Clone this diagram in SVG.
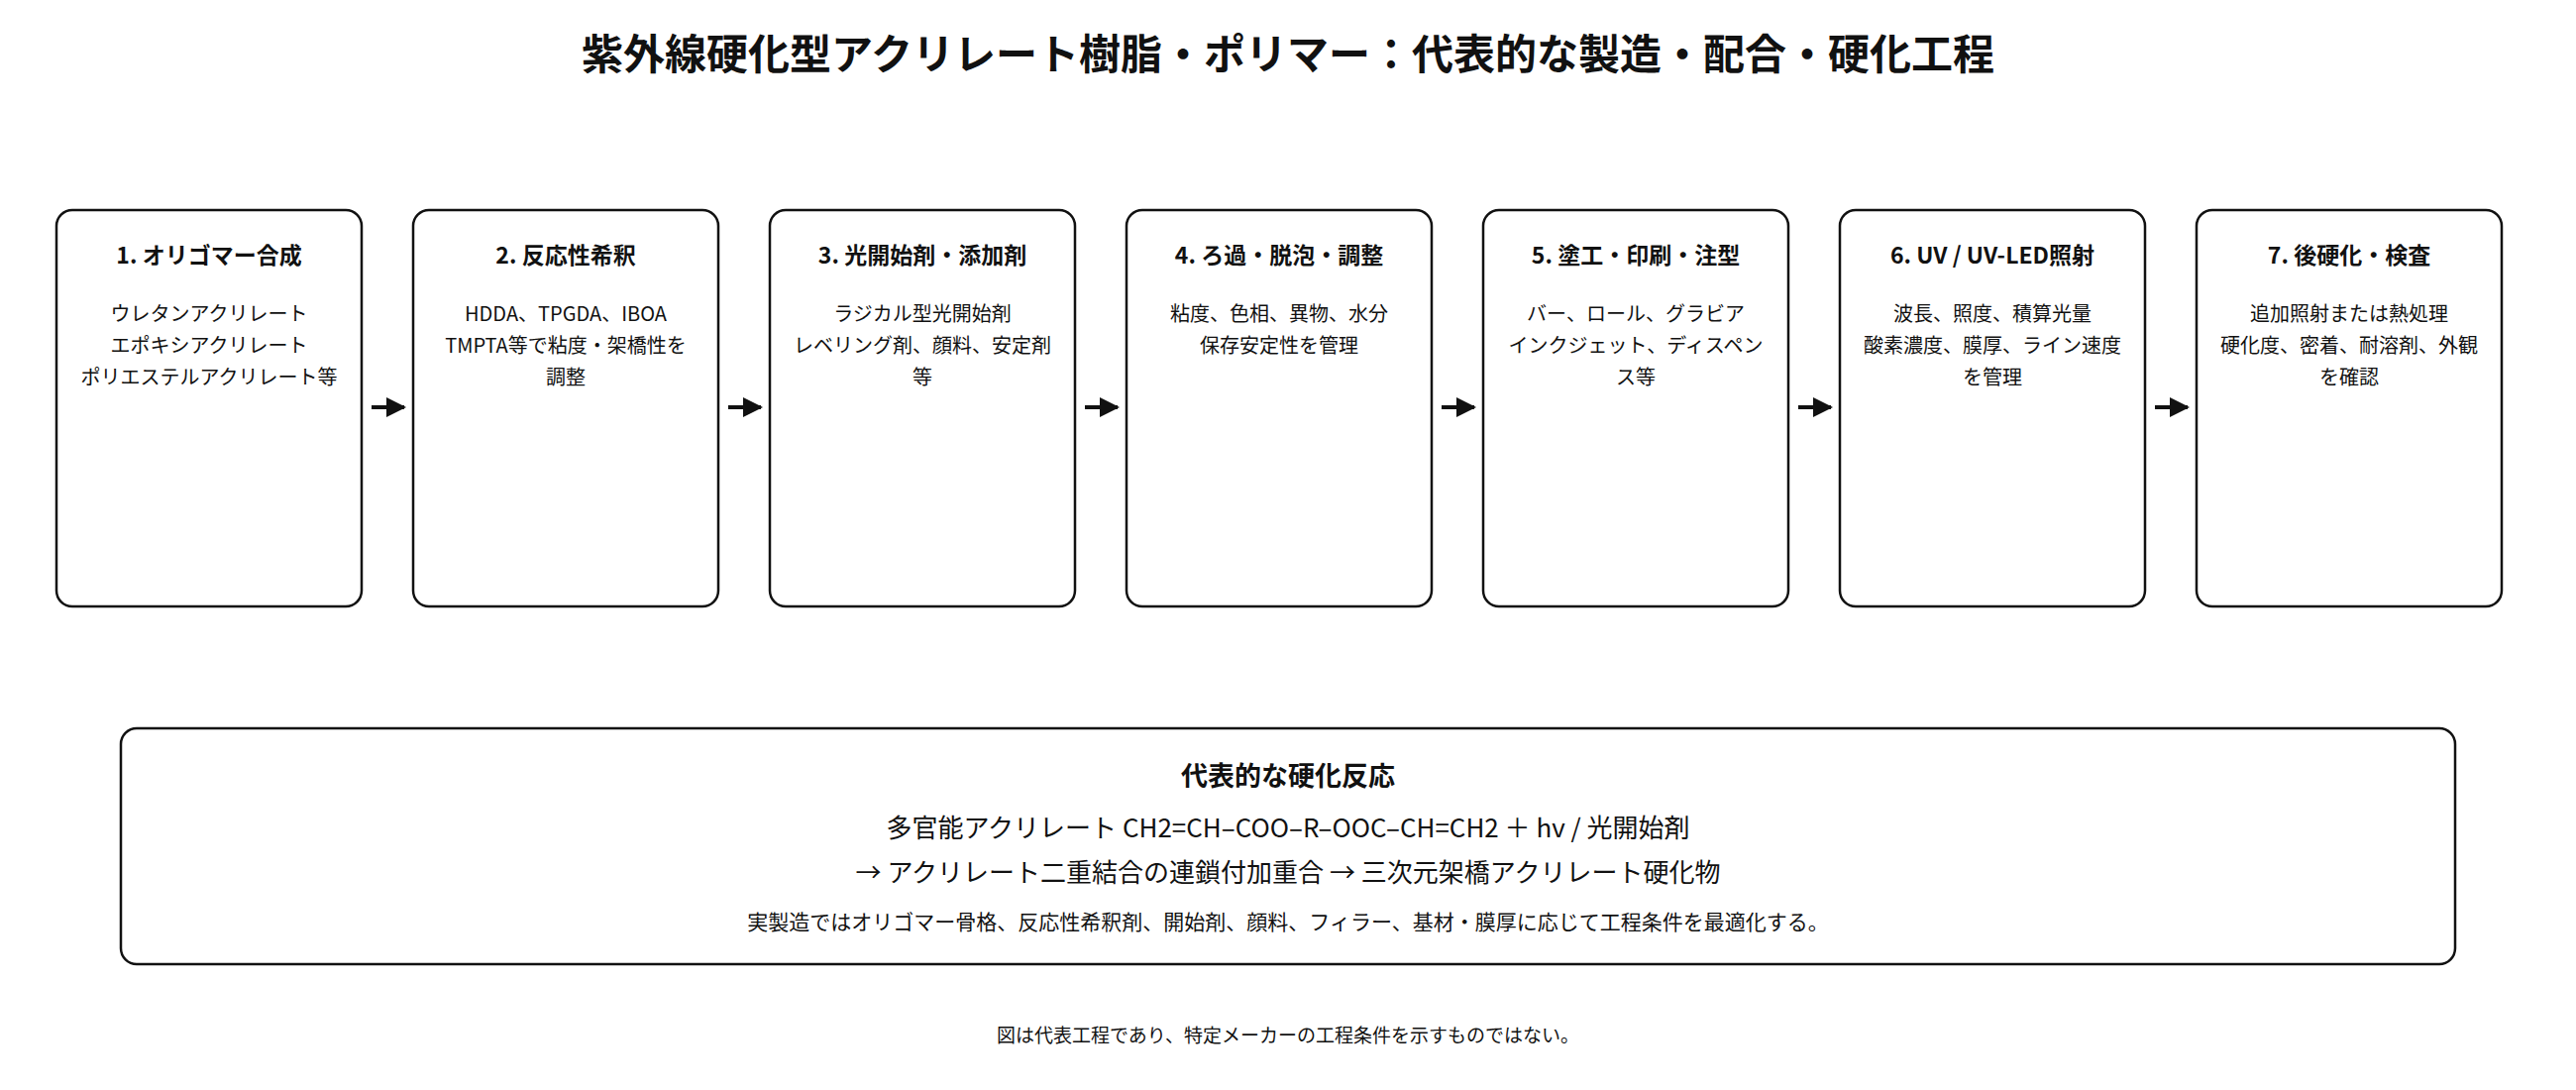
<svg xmlns="http://www.w3.org/2000/svg" width="2600" height="1100" viewBox="0 0 2600 1100">
<style>
text{font-family:"Noto Sans CJK JP","Noto Sans",sans-serif;text-anchor:middle;fill:#111}
.box{fill:#fff;stroke:#111;stroke-width:2.5}
.t{font-size:23px;font-weight:bold}
.b{font-size:20px}
.c{stroke:#111;stroke-width:4;fill:none}
</style>
<defs><marker id="ah" viewBox="0 0 10 10" refX="9" refY="5" markerWidth="5" markerHeight="7" markerUnits="strokeWidth" orient="auto"><path d="M0,0L10,5L0,10z" fill="#111"/></marker></defs>
<rect width="2600" height="1100" fill="#fff"/>
<text x="1300" y="70" style="font-size:42px;font-weight:bold">紫外線硬化型アクリレート樹脂・ポリマー：代表的な製造・配合・硬化工程</text>
<g id="n1"><rect class="box" x="57" y="212" width="308" height="400" rx="16"/><text class="t" x="211" y="266">1. オリゴマー合成</text><text class="b" x="211" y="324">ウレタンアクリレート</text><text class="b" x="211" y="356">エポキシアクリレート</text><text class="b" x="211" y="388">ポリエステルアクリレート等</text></g>
<g id="n2"><rect class="box" x="417" y="212" width="308" height="400" rx="16"/><text class="t" x="571" y="266">2. 反応性希釈</text><text class="b" x="571" y="324">HDDA、TPGDA、IBOA</text><text class="b" x="571" y="356">TMPTA等で粘度・架橋性を</text><text class="b" x="571" y="388">調整</text></g>
<g id="n3"><rect class="box" x="777" y="212" width="308" height="400" rx="16"/><text class="t" x="931" y="266">3. 光開始剤・添加剤</text><text class="b" x="931" y="324">ラジカル型光開始剤</text><text class="b" x="931" y="356">レベリング剤、顔料、安定剤</text><text class="b" x="931" y="388">等</text></g>
<g id="n4"><rect class="box" x="1137" y="212" width="308" height="400" rx="16"/><text class="t" x="1291" y="266">4. ろ過・脱泡・調整</text><text class="b" x="1291" y="324">粘度、色相、異物、水分</text><text class="b" x="1291" y="356">保存安定性を管理</text></g>
<g id="n5"><rect class="box" x="1497" y="212" width="308" height="400" rx="16"/><text class="t" x="1651" y="266">5. 塗工・印刷・注型</text><text class="b" x="1651" y="324">バー、ロール、グラビア</text><text class="b" x="1651" y="356">インクジェット、ディスペン</text><text class="b" x="1651" y="388">ス等</text></g>
<g id="n6"><rect class="box" x="1857" y="212" width="308" height="400" rx="16"/><text class="t" x="2011" y="266">6. UV / UV-LED照射</text><text class="b" x="2011" y="324">波長、照度、積算光量</text><text class="b" x="2011" y="356">酸素濃度、膜厚、ライン速度</text><text class="b" x="2011" y="388">を管理</text></g>
<g id="n7"><rect class="box" x="2217" y="212" width="308" height="400" rx="16"/><text class="t" x="2371" y="266">7. 後硬化・検査</text><text class="b" x="2371" y="324">追加照射または熱処理</text><text class="b" x="2371" y="356">硬化度、密着、耐溶剤、外観</text><text class="b" x="2371" y="388">を確認</text></g>
<g id="connectors">
<line class="c" x1="375" y1="411" x2="408" y2="411" marker-end="url(#ah)"/>
<line class="c" x1="735" y1="411" x2="768" y2="411" marker-end="url(#ah)"/>
<line class="c" x1="1095" y1="411" x2="1128" y2="411" marker-end="url(#ah)"/>
<line class="c" x1="1455" y1="411" x2="1488" y2="411" marker-end="url(#ah)"/>
<line class="c" x1="1815" y1="411" x2="1848" y2="411" marker-end="url(#ah)"/>
<line class="c" x1="2175" y1="411" x2="2208" y2="411" marker-end="url(#ah)"/>
</g>
<g id="reaction"><rect class="box" x="122" y="735" width="2356" height="238" rx="16"/>
<text x="1300" y="793" style="font-size:27px;font-weight:bold">代表的な硬化反応</text>
<text x="1300" y="845" style="font-size:26px">多官能アクリレート  CH2=CH–COO–R–OOC–CH=CH2  ＋  hv / 光開始剤</text>
<text x="1300" y="890" style="font-size:26px">→ アクリレート二重結合の連鎖付加重合 → 三次元架橋アクリレート硬化物</text>
<text x="1300" y="938" style="font-size:21px">実製造ではオリゴマー骨格、反応性希釈剤、開始剤、顔料、フィラー、基材・膜厚に応じて工程条件を最適化する。</text></g>
<text x="1300" y="1052" style="font-size:19px">図は代表工程であり、特定メーカーの工程条件を示すものではない。</text>
</svg>
